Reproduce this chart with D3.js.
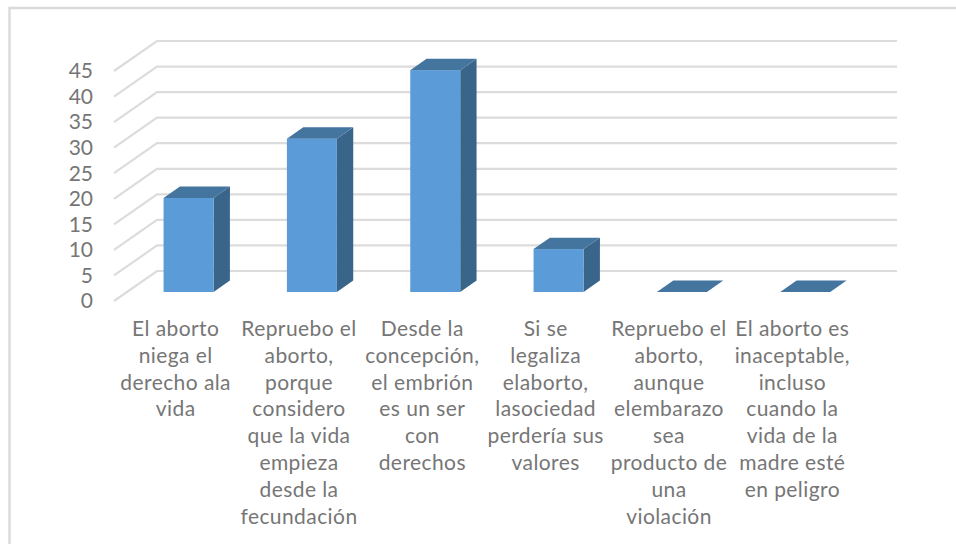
<!DOCTYPE html>
<html><head><meta charset="utf-8">
<script src="https://cdn.jsdelivr.net/npm/d3@7/dist/d3.min.js"></script>
<style>html,body{margin:0;padding:0;background:#fff;overflow:hidden}svg{display:block}text{font-family:Lato,"Open Sans",sans-serif}</style>
</head><body><svg id="c" width="956" height="544"></svg>
<script>
const categoryLines = [
  ["El aborto","niega el","derecho ala","vida"],
  ["Repruebo el","aborto,","porque","considero","que la vida","empieza","desde la","fecundación"],
  ["Desde la","concepción,","el embrión","es un ser","con","derechos"],
  ["Si se","legaliza","elaborto,","lasociedad","perdería sus","valores"],
  ["Repruebo el","aborto,","aunque","elembarazo","sea","producto de","una","violación"],
  ["El aborto es","inaceptable,","incluso","cuando la","vida de la","madre esté","en peligro"]
];
const values = [18.4, 30, 43.4, 8.4, 0, 0];
const yTicks = [0,5,10,15,20,25,30,35,40,45];

const svg = d3.select("#c");
const W = 956, H = 544;
const depthX = 43, depthY = -30;
const x = d3.scaleBand().domain(d3.range(values.length)).range([114, 854]).paddingInner(0).paddingOuter(0);
const y = d3.scaleLinear().domain([0,45]).range([301,71]);
const barW = 50, dNear = 0.3, dFar = 0.68;
const grid = "#dcdcdc", txt = "#767676";

svg.append("path").attr("d",`M${W},8H9.5V${H}`).attr("fill","none").attr("stroke","#dadada").attr("stroke-width",2.4);

svg.append("g").selectAll("path").data(yTicks).join("path")
  .attr("fill","none").attr("stroke",grid).attr("stroke-width",2.2)
  .attr("d",t=>`M${x.range()[0]},${y(t)}L${x.range()[0]+depthX},${y(t)+depthY}H${x.range()[1]+depthX}`);

svg.append("g").selectAll("text").data(yTicks).join("text")
  .attr("x",93).attr("y",t=>y(t)).attr("dy","0.35em").attr("text-anchor","end")
  .attr("font-size",21).attr("fill",txt).text(d=>d);

const P = (px,py)=>`${px},${py}`;
const bars = svg.append("g").selectAll("g").data(values).join("g");
bars.each(function(v,i){
  const g = d3.select(this);
  const cx = x(i)+x.bandwidth()/2;
  const l = cx - barW/2 + depthX*dNear, r = l + barW;
  const b = y(0)+depthY*dNear, t = y(v)+depthY*dNear;
  const ox = depthX*(dFar-dNear), oy = depthY*(dFar-dNear);
  if (v>0){
    g.append("polygon").attr("fill","#39658b")
      .attr("points",[P(r,t),P(r+ox,t+oy),P(r+ox,b+oy),P(r,b)].join(" "));
    g.append("rect").attr("x",l).attr("y",t).attr("width",barW).attr("height",b-t).attr("fill","#5b9bd7");
  }
  g.append("polygon").attr("fill","#44759f")
    .attr("points",[P(l,t),P(r,t),P(r+ox,t+oy),P(l+ox,t+oy)].join(" "));
});

const lineH = 26.8;
svg.append("g").selectAll("text").data(categoryLines).join("text")
  .attr("text-anchor","middle").attr("font-size",21).attr("letter-spacing",0.42).attr("fill",txt)
  .each(function(lines,i){
    d3.select(this).selectAll("tspan").data(lines).join("tspan")
      .attr("x",x(i)+x.bandwidth()/2).attr("y",(d,k)=>336+k*lineH).text(d=>d);
  });
</script></body></html>
